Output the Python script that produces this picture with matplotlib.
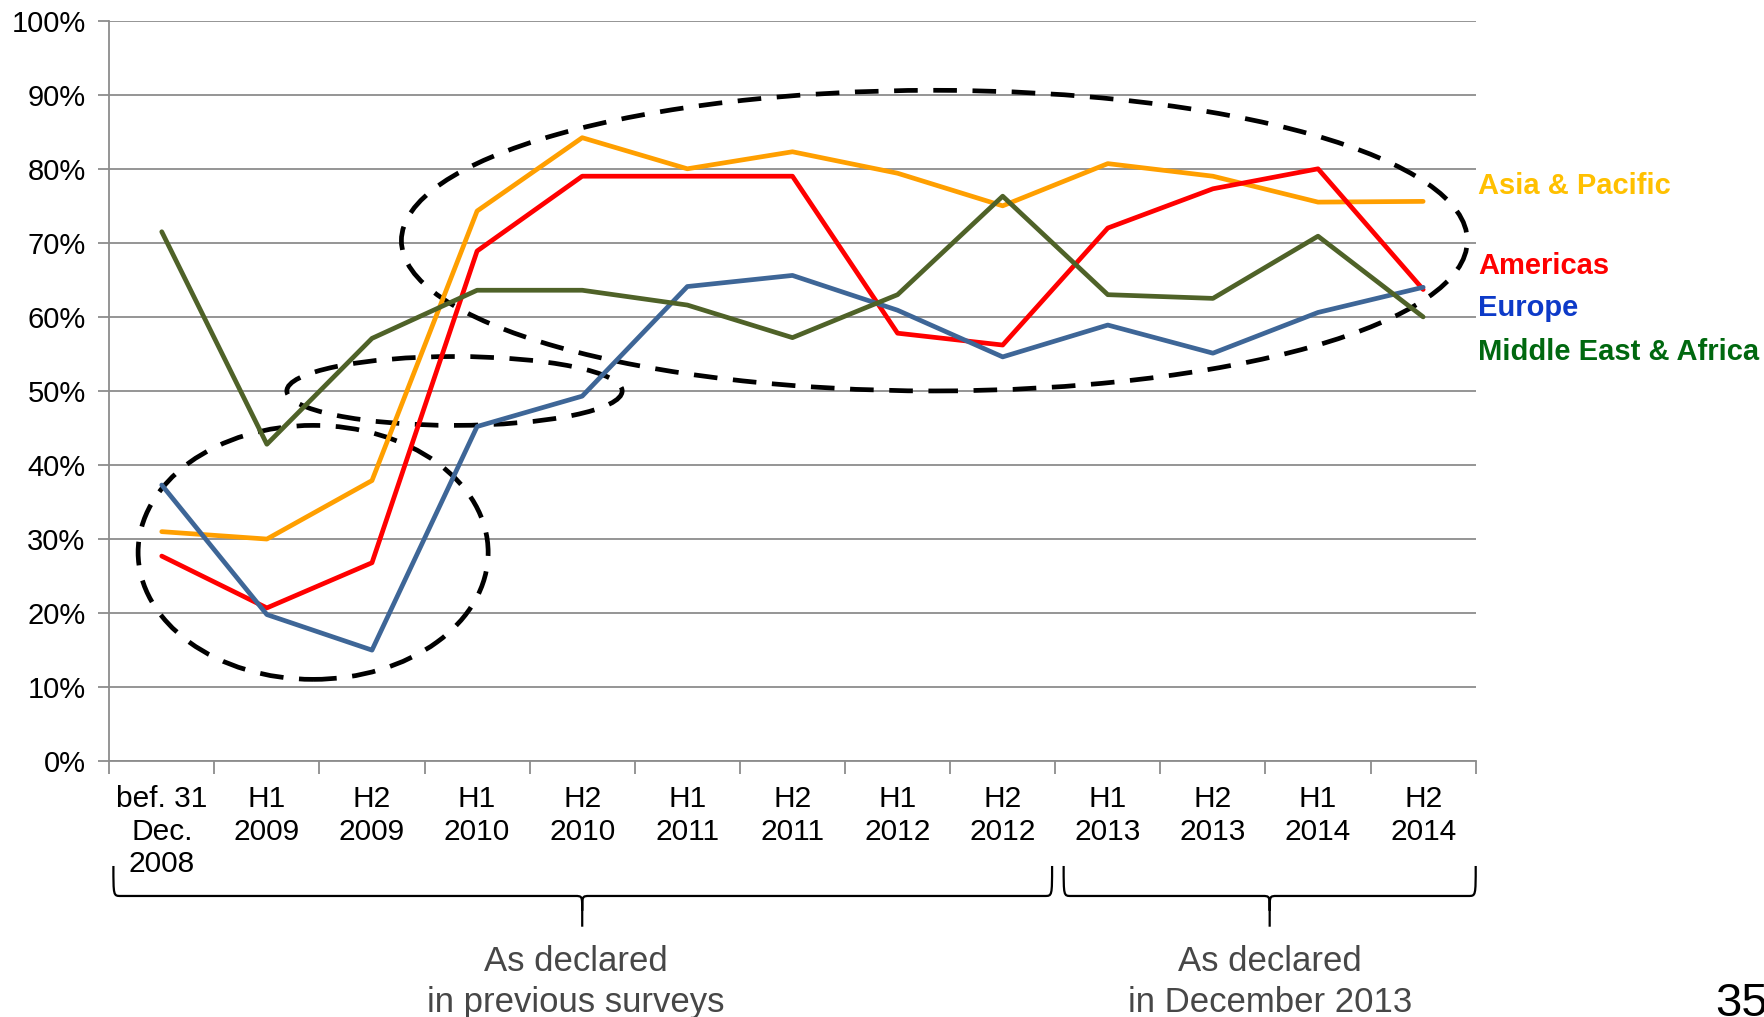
import matplotlib
matplotlib.use("Agg")
import matplotlib.pyplot as plt
from matplotlib.patches import Ellipse, PathPatch
from matplotlib.path import Path
from matplotlib.transforms import blended_transform_factory
from matplotlib.ticker import FixedLocator, PercentFormatter

plt.rcParams["font.family"] = ["Liberation Sans", "DejaVu Sans"]

# Survey periods
periods = ["bef. 31\nDec.\n2008", "H1\n2009", "H2\n2009", "H1\n2010", "H2\n2010",
           "H1\n2011", "H2\n2011", "H1\n2012", "H2\n2012", "H1\n2013",
           "H2\n2013", "H1\n2014", "H2\n2014"]

# Share per region (%)
asia_pacific = [31.0, 30.0, 37.9, 74.3, 84.2, 80.0, 82.3, 79.4, 75.0, 80.7, 79.0, 75.5, 75.6]
americas = [27.7, 20.7, 26.8, 68.9, 79.0, 79.0, 79.0, 57.8, 56.2, 72.0, 77.3, 80.0, 63.7]
europe = [37.3, 19.8, 15.0, 45.2, 49.3, 64.1, 65.6, 60.9, 54.6, 58.9, 55.1, 60.6, 64.0]
middle_east_africa = [71.5, 42.8, 57.1, 63.6, 63.6, 61.6, 57.2, 63.0, 76.3, 63.0, 62.5, 70.9, 60.0]

series_names = ["Asia & Pacific", "Americas", "Europe", "Middle East & Africa"]
line_colors = ["#FF9F00", "#FF0000", "#3E6697", "#4F6228"]
label_colors = ["#FFC000", "#FF0000", "#0D3AC8", "#00680F"]
label_baselines_px = [194, 274, 316, 360]

group_labels = ["As declared\nin previous surveys", "As declared\nin December 2013"]

W, H = 1765, 1017
fig = plt.figure(figsize=(W / 100, H / 100), dpi=100)
ax = fig.add_axes([109.2 / W, 1 - 761.2 / H, (1475.7 - 109.2) / W, (761.2 - 20.7) / H])

x = list(range(len(periods)))
grid_c = "#8C8C8C"

ax.set_xlim(-0.5, len(periods) - 0.5)
ax.set_ylim(0, 100)
ax.yaxis.set_major_locator(FixedLocator(range(0, 101, 10)))
ax.yaxis.set_major_formatter(PercentFormatter(decimals=0))
ax.grid(axis="y", color=grid_c, lw=1.3, zorder=0)
ax.set_axisbelow(True)

ax.set_xticks(x)
ax.set_xticklabels(periods, fontsize=21.5, linespacing=1.22)
ax.set_xticks([i + 0.5 for i in range(-1, len(periods))], minor=True)
ax.tick_params(axis="x", which="major", length=0, pad=17)
ax.tick_params(axis="x", which="minor", length=9, width=1.3, color=grid_c)
ax.tick_params(axis="y", length=8, width=1.3, color=grid_c, labelsize=21, pad=9)

for s in ["top", "right"]:
    ax.spines[s].set_visible(False)
for s in ["left", "bottom"]:
    ax.spines[s].set_color(grid_c)
    ax.spines[s].set_linewidth(1.3)

# Dashed highlight ellipses
dash = (0, (5, 3.3))
for (cx, cy), w, h in [((1.44, 28.2), 3.33, 34.3),
                       ((2.785, 50.0), 3.19, 9.3),
                       ((7.35, 70.3), 10.14, 40.6)]:
    ax.add_patch(Ellipse((cx, cy), w, h, fill=False, edgecolor="black",
                         lw=3.4, ls=dash, zorder=2, clip_on=False))

# Region lines
for vals, c in zip([asia_pacific, americas, europe, middle_east_africa], line_colors):
    ax.plot(x, vals, color=c, lw=3.4, solid_joinstyle="round",
            solid_capstyle="round", zorder=3)

# Region labels at the right
for name, c, yb in zip(series_names, label_colors, label_baselines_px):
    fig.text(1478 / W, 1 - yb / H, name, color=c, fontsize=21,
             fontweight="bold", ha="left", va="baseline")

# Curly braces grouping the periods
bt = blended_transform_factory(ax.transData, ax.transAxes)


def brace(x0, x1, tip, y_top=-0.1415, y_base=-0.182, y_tip=-0.2235, dx=0.07, dy=0.02):
    verts = [(x0, y_top), (x0, y_base), (x0, y_base), (x0 + dx, y_base),
             (tip - dx, y_base),
             (tip, y_base), (tip, y_base), (tip, y_base - dy),
             (tip, y_tip),
             (tip, y_base - dy),
             (tip, y_base), (tip, y_base), (tip + dx, y_base),
             (x1 - dx, y_base),
             (x1, y_base), (x1, y_base), (x1, y_top)]
    codes = [Path.MOVETO, Path.CURVE4, Path.CURVE4, Path.CURVE4,
             Path.LINETO,
             Path.CURVE4, Path.CURVE4, Path.CURVE4,
             Path.LINETO,
             Path.MOVETO,
             Path.CURVE4, Path.CURVE4, Path.CURVE4,
             Path.LINETO,
             Path.CURVE4, Path.CURVE4, Path.CURVE4]
    ax.add_patch(PathPatch(Path(verts, codes), transform=bt, fill=False,
                           edgecolor="black", lw=1.6, clip_on=False))


brace(-0.46, 8.47, 4.0)
brace(8.58, 12.5, 10.54)

ax.text(3.94, -0.298, group_labels[0], transform=bt, ha="center", va="center",
        fontsize=25, color="#474747", linespacing=1.3)
ax.text(10.54, -0.298, group_labels[1], transform=bt, ha="center", va="center",
        fontsize=25, color="#474747", linespacing=1.3)

# Page number
fig.text(1715 / W, 0.5 / H, "35", fontsize=34, color="black", ha="left", va="baseline")

fig.savefig("out.png", dpi=100)
